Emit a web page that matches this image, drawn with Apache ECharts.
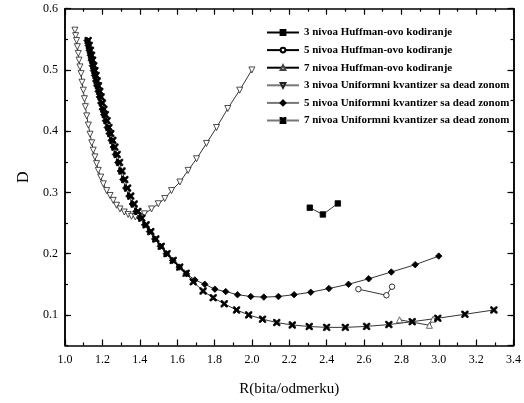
<!DOCTYPE html>
<html><head><meta charset="utf-8">
<script src="https://cdn.jsdelivr.net/npm/echarts@6/dist/echarts.min.js"></script>
<style>html,body{margin:0;padding:0;background:#fff}#c{width:524px;height:403px}</style>
</head><body><div id="c"></div>
<script>
// ---- data ----
var names = [
  '3 nivoa Huffman-ovo kodiranje',
  '5 nivoa Huffman-ovo kodiranje',
  '7 nivoa Huffman-ovo kodiranje',
  '3 nivoa Uniformni kvantizer sa dead zonom',
  '5 nivoa Uniformni kvantizer sa dead zonom',
  '7 nivoa Uniformni kvantizer sa dead zonom'
];
var xTicks = [1.0,1.2,1.4,1.6,1.8,2.0,2.2,2.4,2.6,2.8,3.0,3.2,3.4];
var yTicks = [0.1,0.2,0.3,0.4,0.5,0.6];

var huff3X = [2.31, 2.38, 2.46];
var huff3Y = [0.275, 0.264, 0.282];
var huff5X = [2.57, 2.72, 2.75];
var huff5Y = [0.142, 0.132, 0.146];
var huff7X = [2.79, 2.95, 2.97];
var huff7Y = [0.092, 0.083, 0.093];

var uni3X = [1.053,1.057,1.062,1.066,1.071,1.075,1.080,1.086,1.091,1.098,1.104,1.109,1.116,1.125,1.134,1.143,1.151,1.160,1.169,1.178,1.191,1.205,1.223,1.241,1.258,1.276,1.294,1.317,1.338,1.356,1.376,1.398,1.425,1.463,1.499,1.534,1.570,1.615,1.659,1.704,1.757,1.811,1.871,1.935,2.0];
var uni3Y = [0.565,0.556,0.548,0.538,0.527,0.516,0.505,0.494,0.480,0.467,0.453,0.440,0.425,0.410,0.395,0.381,0.369,0.358,0.347,0.336,0.325,0.314,0.303,0.295,0.287,0.279,0.273,0.268,0.264,0.261,0.260,0.261,0.265,0.273,0.2815,0.290,0.303,0.317,0.336,0.355,0.380,0.406,0.437,0.467,0.500];

var uni5X = [1.118,1.124,1.129,1.135,1.140,1.146,1.152,1.158,1.164,1.170,1.177,1.184,1.191,1.199,1.207,1.216,1.226,1.236,1.247,1.258,1.270,1.283,1.296,1.310,1.325,1.342,1.360,1.380,1.402,1.426,1.452,1.480,1.510,1.542,1.576,1.611,1.650,1.695,1.748,1.802,1.860,1.923,1.994,2.064,2.142,2.226,2.315,2.412,2.517,2.625,2.746,2.874,3.0];
var uni5Y = [0.548,0.540,0.532,0.524,0.516,0.507,0.499,0.491,0.482,0.474,0.465,0.456,0.446,0.436,0.427,0.417,0.406,0.396,0.385,0.374,0.362,0.349,0.335,0.321,0.307,0.294,0.281,0.269,0.258,0.247,0.236,0.224,0.212,0.200,0.189,0.178,0.167,0.157,0.150,0.142,0.138,0.133,0.130,0.129,0.130,0.133,0.137,0.143,0.150,0.159,0.170,0.182,0.196];

var uni7X = [1.124,1.130,1.136,1.142,1.148,1.154,1.160,1.166,1.172,1.179,1.186,1.193,1.200,1.208,1.216,1.225,1.235,1.245,1.256,1.267,1.279,1.292,1.305,1.320,1.335,1.352,1.370,1.390,1.411,1.434,1.459,1.486,1.515,1.546,1.579,1.614,1.648,1.686,1.739,1.793,1.852,1.918,1.983,2.057,2.133,2.216,2.307,2.40,2.50,2.614,2.733,2.858,2.995,3.14,3.295];
var uni7Y = [0.548,0.540,0.532,0.524,0.516,0.507,0.499,0.491,0.482,0.474,0.465,0.456,0.446,0.436,0.427,0.417,0.406,0.396,0.385,0.374,0.362,0.349,0.335,0.321,0.307,0.294,0.281,0.269,0.258,0.247,0.236,0.224,0.212,0.200,0.189,0.178,0.168,0.154,0.139,0.128,0.118,0.108,0.100,0.093,0.0875,0.0835,0.081,0.0796,0.0796,0.0812,0.0842,0.0889,0.0945,0.101,0.108];

function pairs(xs, ys){ return xs.map(function(x,i){ return [x, ys[i]]; }); }

var FONT = 'Liberation Serif';
var xMark = 'path://M0,0L2.2,0L5,2.8L7.8,0L10,0L10,2.2L7.2,5L10,7.8L10,10L7.8,10L5,7.2L2.2,10L0,10L0,7.8L2.8,5L0,2.2Z';

var chart = echarts.init(document.getElementById('c'), null, {renderer:'canvas'});

function mkSeries(name, data, symbol, size, fill, border, rotate){
  return {
    name: name, type: 'line', data: data, xAxisIndex: 0, yAxisIndex: 0,
    symbol: symbol, symbolSize: size, symbolRotate: rotate || 0, showSymbol: true,
    lineStyle: {color: '#000', width: 0.8},
    itemStyle: {color: fill, borderColor: border, borderWidth: 0.8},
    emphasis: {disabled: true}, animation: false, z: 3
  };
}

var axisCommon = {
  axisLine: {show: true, onZero: false, lineStyle: {color: '#000', width: 1.5}},
  splitLine: {show: false}
};

var option = {
  backgroundColor: '#fff',
  animation: false,
  grid: {left: 65, right: 10, top: 8.7, bottom: 57.5, containLabel: false},
  legend: {
    orient: 'vertical', left: 261, top: 22, itemWidth: 32, itemHeight: 6, itemGap: 6.6,
    textStyle: {fontFamily: FONT, fontWeight: 'bold', fontSize: 11, color: '#000'},
    data: [
      {name: names[0]}, {name: names[1]}, {name: names[2]},
      {name: names[3], lineStyle: {color: '#777'}},
      {name: names[4], lineStyle: {color: '#777'}},
      {name: names[5], lineStyle: {color: '#777'}}
    ]
  },
  xAxis: [
    Object.assign({
      type: 'value', position: 'bottom', min: 1.0, max: 3.4, interval: 0.2,
      name: 'R(bita/odmerku)', nameLocation: 'middle', nameGap: 36,
      nameTextStyle: {fontFamily: FONT, fontSize: 15, color: '#000'},
      axisTick: {show: true, inside: true, length: 6, lineStyle: {color: '#000', width: 1.2}},
      minorTick: {show: true, splitNumber: 2, length: 3, lineStyle: {color: '#000', width: 1.2}},
      axisLabel: {fontFamily: FONT, fontSize: 12, color: '#000', margin: 8,
        formatter: function(v){ return v.toFixed(1); }}
    }, axisCommon),
    Object.assign({
      type: 'value', position: 'top', min: 1.0, max: 3.4, interval: 0.2,
      axisTick: {show: true, inside: true, length: 6, lineStyle: {color: '#000', width: 1.2}},
      minorTick: {show: true, splitNumber: 2, length: 3, lineStyle: {color: '#000', width: 1.2}},
      axisLabel: {show: false}
    }, axisCommon)
  ],
  yAxis: [
    Object.assign({
      type: 'value', position: 'left', min: 0.05, max: 0.6,
      name: 'D', nameLocation: 'middle', nameGap: 31, nameRotate: 90,
      nameTextStyle: {fontFamily: FONT, fontSize: 16, color: '#000'},
      axisTick: {show: true, inside: true, length: 6, lineStyle: {color: '#000', width: 1.2}},
      axisLabel: {fontFamily: FONT, fontSize: 12, color: '#000', margin: 7, showMinLabel: false,
        formatter: function(v){ return yTicks.some(function(t){return Math.abs(t-v)<1e-6;}) ? v.toFixed(1) : ''; }}
    }, axisCommon),
    Object.assign({
      type: 'value', position: 'left', min: 0.05, max: 0.6, interval: 0.05,
      axisTick: {show: true, inside: true, length: 3, lineStyle: {color: '#000', width: 1.2}},
      axisLabel: {show: false}
    }, axisCommon),
    Object.assign({
      type: 'value', position: 'right', min: 0.05, max: 0.6,
      axisTick: {show: true, inside: true, length: 6, lineStyle: {color: '#000', width: 1.2}},
      axisLabel: {show: false}
    }, axisCommon),
    Object.assign({
      type: 'value', position: 'right', min: 0.05, max: 0.6, interval: 0.05,
      axisTick: {show: true, inside: true, length: 3, lineStyle: {color: '#000', width: 1.2}},
      axisLabel: {show: false}
    }, axisCommon)
  ],
  series: [
    mkSeries(names[0], pairs(huff3X, huff3Y), 'rect', 5.5, '#000', '#000'),
    mkSeries(names[1], pairs(huff5X, huff5Y), 'circle', 5.5, '#fff', '#000'),
    mkSeries(names[2], pairs(huff7X, huff7Y), 'triangle', 6, '#fff', '#444'),
    mkSeries(names[3], pairs(uni3X, uni3Y), 'triangle', 6, '#fff', '#222', 180),
    mkSeries(names[4], pairs(uni5X, uni5Y), 'diamond', 6.5, '#000', '#000'),
    mkSeries(names[5], pairs(uni7X, uni7Y), xMark, 6.5, '#000', '#000')
  ]
};
chart.setOption(option);
</script>
</body></html>
